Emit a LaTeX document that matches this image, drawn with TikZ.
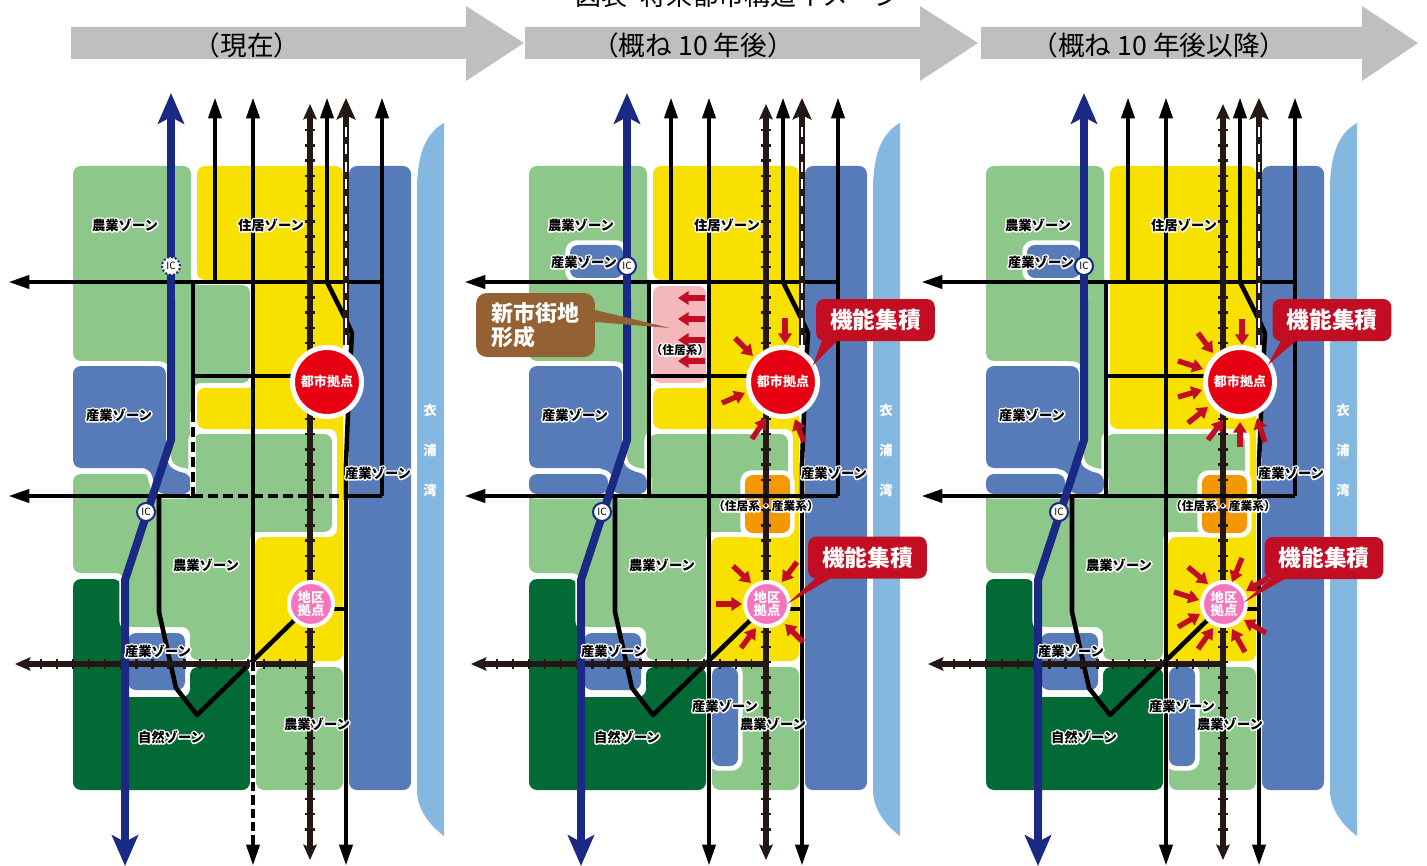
\documentclass[tikz,border=0pt]{standalone}
\usepackage{fontspec}
\setmainfont{Noto Sans CJK JP}
\usetikzlibrary{arrows.meta}
\definecolor{zgreen}{HTML}{8DC88A}
\definecolor{zyellow}{HTML}{F8E000}
\definecolor{zblue}{HTML}{567BB8}
\definecolor{zdark}{HTML}{036A35}
\definecolor{zbay}{HTML}{85B8E0}
\definecolor{zpink}{HTML}{F4B8BB}
\definecolor{zorange}{HTML}{F39800}
\definecolor{hiway}{HTML}{1A2A84}
\definecolor{railc}{HTML}{231815}
\definecolor{citytone}{HTML}{E60012}
\definecolor{localtone}{HTML}{F674BC}
\definecolor{calltone}{HTML}{C30D23}
\definecolor{browntone}{HTML}{946134}
\definecolor{bandtone}{HTML}{BFBFBF}
\newcommand\lab[1]{\rlap{\color{white}\special{pdf:code 2 Tr 2.2 w 1 j}#1\special{pdf:code 0 Tr}}#1}
\newcommand\zn[2]{\path[fill=white,draw=white,line width=7pt,rounded corners=5pt,line join=round] #2;\path[fill=#1,rounded corners=6pt] #2;}
\tikzset{
 road/.style={black,line width=3.4pt,line join=round},
 tipped/.style={road,-{Triangle[length=16pt,width=9.5pt]}},
 dashroad/.style={road,dash pattern=on 7.5pt off 3.8pt},
 rail/.style={railc,line width=3.8pt},
 railtip/.style={rail,-{Stealth[length=11.5pt,width=10pt,inset=2pt]}},
 ticksv/.style={railc,line width=7.4pt,dash pattern=on 1.8pt off 9.6pt},
 ticksh/.style={railc,line width=7.4pt,dash pattern=on 1.8pt off 10.13pt},
 hw/.style={hiway,line width=6pt,line join=round},
 zlabel/.style={font=\fontsize{10}{10}\bfseries\selectfont,inner sep=0pt},
 smalllabel/.style={font=\fontsize{8.8}{9}\bfseries\selectfont,inner sep=0pt},
 baylabel/.style={font=\fontsize{10}{10}\bfseries\selectfont,text=white,inner sep=0pt},
 icnode/.style={circle,fill=white,draw=hiway,line width=1.5pt,minimum size=13.5pt,inner sep=0pt,font=\fontsize{7.5}{8}\selectfont},
 citynode/.style={circle,fill=citytone,draw=white,line width=3.75pt,minimum size=51.75pt,inner sep=0pt,text=white,font=\fontsize{9.8}{10}\bfseries\selectfont},
 localnode/.style={circle,fill=localtone,draw=white,line width=3pt,minimum size=33pt,inner sep=0pt,text=white,align=center,font=\fontsize{10}{10}\bfseries\selectfont},
 callnode/.style={fill=calltone,rounded corners=6pt,minimum width=89pt,minimum height=31.5pt,inner sep=0pt,text=white,font=\fontsize{17}{18}\bfseries\selectfont},
 calltail/.style={fill=calltone},
 brownnode/.style={fill=browntone,rounded corners=8pt,minimum width=89pt,minimum height=48pt,inner sep=0pt,text=white,align=left,font=\fontsize{16.5}{18}\bfseries\selectfont},
 rarrow/.style={calltone,line width=4pt,-{Triangle[length=8pt,width=10pt]}},
 bandlabel/.style={font=\fontsize{20}{20}\selectfont,inner sep=0pt},
}
% zones shared by all three panels
\newcommand\zonesBack{%
 \path[fill=zbay] (444,123) .. controls (428,132) and (417,150) .. (417,190) -- (417,790) .. controls (417,808) and (428,824) .. (444,836) -- cycle;
 \path[fill=zblue,rounded corners=6pt] (349,166) rectangle (411,790);
 \path[fill=zgreen,rounded corners=6pt] (256,667) rectangle (343,790);
 \zn{zdark}{(73,579) -- (121,579) -- (121,697) -- (190,697) -- (190,667) -- (250,667) -- (250,790) -- (73,790) -- cycle}
 \zn{zgreen}{(73,166) -- (191,166) -- (191,285) -- (250,285) -- (250,383) -- (193,383) -- (193,478) -- (160,478) -- (160,361) -- (73,361) -- cycle}
 \zn{zgreen}{(193,434) -- (332,434) -- (332,532) -- (250,532) -- (250,660) -- (190,660) -- (190,627) -- (124,627) -- (124,573) -- (73,573) -- (73,474) -- (152,474) -- (152,497) -- (193,497) -- cycle}
}
\newcommand\yellowPartial{\zn{zyellow}{(197,166) -- (343,166) -- (343,661) -- (255,661) -- (255,537) -- (337,537) -- (337,429) -- (197,429) -- (197,388) -- (255,388) -- (255,280) -- (197,280) -- cycle}}
\newcommand\yellowFull{\zn{zyellow}{(197,166) -- (343,166) -- (343,661) -- (255,661) -- (255,537) -- (337,537) -- (337,429) -- (197,429) -- cycle}}
\newcommand\zonesBlue{%
 \zn{zblue}{(73,366) -- (166,366) -- (166,462) -- (174,471) -- (191,474) -- (191,494) -- (157,494) -- (150,468) -- (73,468) -- cycle}
 \zn{zblue}{(128,633) -- (185,633) -- (185,690) -- (128,690) -- cycle}
}
\newcommand\zonesLater{%
 \zn{zblue}{(114,245) -- (167,245) -- (167,278) -- (114,278) -- cycle}
 \zn{zblue}{(73,474) -- (152,474) -- (152,494) -- (73,494) -- cycle}
 \zn{zorange}{(289,475) -- (334,475) -- (334,533) -- (289,533) -- cycle}
 \zn{zblue}{(256,667) -- (282,667) -- (282,766) -- (256,766) -- cycle}
}
% roads shared by all three panels
\newcommand\roadsCommon{%
 \coordinate (city) at (327,382);
 \coordinate (local) at (311,604);
 \coordinate (j282) at (382,282);
 \coordinate (j496) at (382,496);
 \coordinate (k1) at (215,282);
 \coordinate (k3) at (327,282);
 \coordinate (k4) at (193,282);
 \coordinate (k5) at (193,376);
 \coordinate (k6) at (159,496);
 \coordinate (k7) at (197,715);
 \coordinate (k8) at (346,609);
 \coordinate (tw) at (8,282);
 \coordinate (tw2) at (8,496);
 \draw[tipped] (j282) -- (tw);
 \draw[tipped] (k1) -- (215,97);
 \draw[tipped] (k3) -- (327,97);
 \draw[tipped] (j496) -- (382,97);
 \draw[tipped] (253,662) -- (253,97);
 \draw[road] (k5) -- (k5 -| city);
 \draw[road] (k4) -- (193,412);
 \draw[road] (k6) -- (159,612) -- (176,688) -- (k7) -- (local);
 \draw[road] (k8 -| local) -- (k8);
 \draw[road] (k3) -- (345,318) -- (352,333) -- (351,350) -- (348,413) -- (346,463) -- (346,500);
 \draw[tipped] (346,500) -- (346,866);
 \draw[road] (j496) -- (345,496);
 \draw[tipped] (193,496) -- (tw2);
 \draw[line width=4.6pt,-{Stealth[length=16pt,width=14pt,inset=3pt]},draw=railc,fill=railc] (346,345) -- (346,98);
 \draw[white,line width=1.8pt,dash pattern=on 7.5pt off 5.5pt] (346,345) -- (346,125);
 \draw[railtip] (310,640) -- (310,104);
 \draw[railtip] (310,640) -- (310,860);
 \draw[ticksv] (310,129) -- (310,835);
 \draw[railtip] (313,664) -- (15,664);
 \draw[ticksh] (40,664) -- (296,664);
 \draw[hw,-{Stealth[length=23pt,width=19.5pt,inset=5pt]}] (171,300) -- (171,93);
 \draw[hw] (171,300) -- (171,440) -- (125,580) -- (125,800);
 \draw[hw,-{Stealth[length=23pt,width=19.5pt,inset=5pt]}] (125,800) -- (125,866);
}
\newcommand\laterSegs{%
 \draw[road] (193,412) -- (193,496);
 \draw[road] (193,496) -- (345,496);
 \draw[tipped] (253,662) -- (253,866);
}
\newcommand\hubs{%
 \node[citynode] (cityhub) at (city) {都市拠点};
 \node[localnode] (localhub) at (local) {地区\\拠点};
}
\newcommand\labelsCommon{%
 \node[zlabel] (l1) at (125,225) {\lab{農業ゾーン}};
 \node[zlabel] (l2) at (271,225) {\lab{住居ゾーン}};
 \node[zlabel] (l3) at (119,415) {\lab{産業ゾーン}};
 \node[zlabel] (l4) at (378,473) {\lab{産業ゾーン}};
 \node[zlabel] (l5) at (206,565) {\lab{農業ゾーン}};
 \node[zlabel] (l6) at (158,651) {\lab{産業ゾーン}};
 \node[zlabel] (l7) at (171,737) {\lab{自然ゾーン}};
 \node[zlabel] (l8) at (317,724) {\lab{農業ゾーン}};
 \node[baylabel] (b1) at (430,410) {衣};
 \node[baylabel] (b2) at (430,450) {浦};
 \node[baylabel] (b3) at (430,490) {湾};
 \node[icnode] (ic2) at (146,512) {IC};
}
\newcommand\labelsLater{%
 \node[icnode] (ic1) at (171,266) {IC};
 \node[zlabel] (l9) at (128,262) {\lab{産業ゾーン}};
 \node[smalllabel] (l10) at (310,506) {\lab{（住居系・産業系）}};
 \node[zlabel] (l11) at (269,706) {\lab{産業ゾーン}};
}
\begin{document}
\begin{tikzpicture}[x=0.75pt,y=-0.75pt]
\useasboundingbox (0,0) rectangle (1427,866);
\clip (0,0) rectangle (1427,866);
% header
\node[font=\fontsize{19.5}{20}\selectfont,inner sep=0pt] (title) at (738,-4) {図表\hspace{0.5em}将来都市構造イメージ};
\path[fill=bandtone] (71,27) -- (466,27) -- (466,6) -- (524,43) -- (466,81) -- (466,59) -- (71,59) -- cycle;
\path[fill=bandtone] (525,27) -- (920,27) -- (920,6) -- (978,43) -- (920,81) -- (920,59) -- (525,59) -- cycle;
\path[fill=bandtone] (981,27) -- (1362,27) -- (1362,6) -- (1418,43) -- (1362,81) -- (1362,59) -- (981,59) -- cycle;
\node[bandlabel] (h1) at (247,45) {（現在）};
\node[bandlabel] (h2) at (693,45) {（概ね 10 年後）};
\node[bandlabel] (h3) at (1159,45) {（概ね 10 年後以降）};
% panel 1
\begin{scope}[name prefix=a-]
 \zonesBack \yellowPartial \zonesBlue \roadsCommon
 \draw[road] (193,412) -- (193,496);
 \draw[white,line width=4.5pt] (193,412) -- (193,496);
 \draw[dashroad] (193,412) -- (193,496);
 \draw[dashroad] (193,496) -- (345,496);
 \draw[white,line width=4.5pt] (253,662) -- (253,845);
 \draw[road,dash pattern=on 7pt off 3pt] (253,662) -- (253,840);
 \draw[tipped] (253,840) -- (253,866);
 \hubs \labelsCommon
 \node[circle,fill=white,draw=hiway,line width=1.5pt,dash pattern=on 1.5pt off 1.5pt,minimum size=13.5pt,inner sep=0pt,font=\fontsize{7.5}{8}\selectfont] (ic1) at (171,266) {IC};
\end{scope}
% panel 2
\begin{scope}[shift={(456,0)},name prefix=b-]
 \zonesBack \yellowPartial \zonesBlue \zonesLater
 \zn{zpink}{(197,286) -- (250,286) -- (250,383) -- (197,383) -- cycle}
 \roadsCommon \laterSegs \hubs \labelsCommon \labelsLater
\end{scope}
\node[smalllabel] (resi) at (680,350) {\lab{（住居系）}};
\draw[rarrow] (705,298) -- (678,298);
\draw[rarrow] (705,319) -- (678,319);
\draw[rarrow] (705,340) -- (678,340);
\draw[rarrow] (705,361) -- (678,361);
\draw[rarrow] (785,318) -- (785,344);
\draw[rarrow] (735,338) -- (753,356);
\draw[rarrow] (722,403) -- (745,393);
\draw[rarrow] (752,439) -- (766,418);
\draw[rarrow] (804,442) -- (795,419);
\draw[rarrow] (733,566) -- (751,583);
\draw[rarrow] (797,562) -- (782,582);
\draw[rarrow] (716,604) -- (742,604);
\draw[rarrow] (741,648) -- (756,628);
\draw[rarrow] (803,642) -- (785,624);
\fill[calltail] (823,338) -- (813,365) -- (840,338) -- cycle;
\node[callnode] (c1) at (875.5,320) {機能集積};
\fill[calltail] (817,577) -- (787,604) -- (833,577) -- cycle;
\node[callnode] (c2) at (867.5,557.5) {機能集積};
\fill[browntone] (595,310) -- (670,328) -- (595,322) -- cycle;
\node[brownnode] (newtown) at (535.5,325) {新市街地\\形成};
% panel 3
\begin{scope}[shift={(913,0)},name prefix=c-]
 \zonesBack \yellowFull \zonesBlue \zonesLater
 \roadsCommon \laterSegs \hubs \labelsCommon \labelsLater
\end{scope}
\draw[rarrow] (1242,319) -- (1242,345);
\draw[rarrow] (1198,333) -- (1213,353);
\draw[rarrow] (1178,361) -- (1203,369);
\draw[rarrow] (1178,397) -- (1202,390);
\draw[rarrow] (1188,423) -- (1208,407);
\draw[rarrow] (1208,440) -- (1223,420);
\draw[rarrow] (1240,447) -- (1240,422);
\draw[rarrow] (1265,442) -- (1257,418);
\draw[rarrow] (1188,567) -- (1208,584);
\draw[rarrow] (1242,558) -- (1232,582);
\draw[rarrow] (1268,578) -- (1246,591);
\draw[rarrow] (1174,592) -- (1199,600);
\draw[rarrow] (1178,627) -- (1200,614);
\draw[rarrow] (1198,649) -- (1213,628);
\draw[rarrow] (1245,652) -- (1232,629);
\draw[rarrow] (1266,633) -- (1244,620);
\fill[calltail] (1282,339) -- (1268,365) -- (1298,339) -- cycle;
\node[callnode] (c3) at (1332,320) {機能集積};
\fill[calltail] (1273,577) -- (1243,603) -- (1288,577) -- cycle;
\node[callnode] (c4) at (1324,558) {機能集積};
\end{tikzpicture}
\end{document}
